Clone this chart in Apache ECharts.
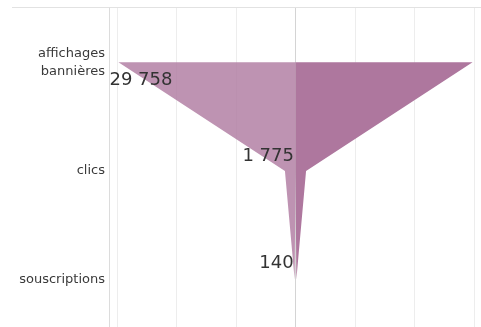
<!DOCTYPE html>
<html>
<head>
<meta charset="utf-8">
<script src="https://cdn.jsdelivr.net/npm/echarts@6/dist/echarts.min.js"></script>
<style>
  html, body { margin: 0; padding: 0; background: #fff; overflow: hidden; }
  /* the plot area runs a few pixels past the bottom of the view */
  #chart { width: 481px; height: 334px; }
</style>
</head>
<body>
<div id="chart"></div>
<script>
// Funnel stages and their counts
const stages = ['affichages\nbannières', 'clics', 'souscriptions'];
const counts = [29758, 1775, 140];
// Value axis ticks
const axisMin = -30000;
const axisMax = 30000;
const axisStep = 10000;

// Per-stage label placement (align, offset from the stage point on the left edge)
const labelPlacement = [
  { align: 'left', offset: [-9, 18] },
  { align: 'right', offset: [9, -15] },
  { align: 'right', offset: [-1, -16] }
];

function formatCount(v) {
  return String(Math.abs(v)).replace(/\B(?=(\d{3})+(?!\d))/g, ' ');
}

const gridColors = [];
for (let v = axisMin; v <= axisMax; v += axisStep) {
  gridColors.push(v === 0 ? '#d4d4d4' : '#ededed');
}

const leftData = counts.map((c, i) => ({
  value: -c,
  label: {
    show: true,
    position: 'inside',
    align: labelPlacement[i].align,
    verticalAlign: 'middle',
    offset: labelPlacement[i].offset
  }
}));
const rightData = counts.slice();

const chart = echarts.init(document.getElementById('chart'), null, { renderer: 'canvas' });
chart.setOption({
  animation: false,
  backgroundColor: '#ffffff',
  grid: { left: 117, right: 7, top: 8, bottom: 0, containLabel: false },
  xAxis: {
    type: 'value',
    min: axisMin,
    max: axisMax,
    interval: axisStep,
    axisLine: { show: false },
    axisTick: { show: false },
    axisLabel: { show: false },
    splitLine: { show: true, lineStyle: { color: gridColors, width: 1 } }
  },
  yAxis: {
    type: 'category',
    inverse: true,
    data: stages,
    offset: 8,
    axisLine: { show: true, onZero: false, lineStyle: { color: '#dcdcdc', width: 1 } },
    axisTick: { show: false },
    axisLabel: {
      margin: 4,
      color: '#3a3a3a',
      fontFamily: 'DejaVu Sans',
      fontSize: 13,
      lineHeight: 18,
      align: 'right'
    },
    splitLine: { show: false }
  },
  graphic: [{
    type: 'line',
    shape: { x1: 12, y1: 7.5, x2: 481, y2: 7.5 },
    style: { stroke: '#e2e2e2', lineWidth: 1 },
    silent: true
  }],
  series: [
    {
      name: 'gauche',
      type: 'line',
      data: leftData,
      symbol: 'circle',
      symbolSize: 1,
      itemStyle: { color: 'rgba(0,0,0,0)' },
      lineStyle: { width: 0 },
      areaStyle: { color: 'rgba(174,120,159,0.8)', opacity: 1 },
      label: {
        show: true,
        formatter: p => formatCount(p.value),
        color: '#333333',
        fontFamily: 'DejaVu Sans',
        fontSize: 18
      },
      z: 3
    },
    {
      name: 'droite',
      type: 'line',
      data: rightData,
      symbol: 'none',
      lineStyle: { width: 0 },
      areaStyle: { color: '#ae779e', opacity: 1 },
      z: 2
    }
  ]
});
</script>
</body>
</html>
